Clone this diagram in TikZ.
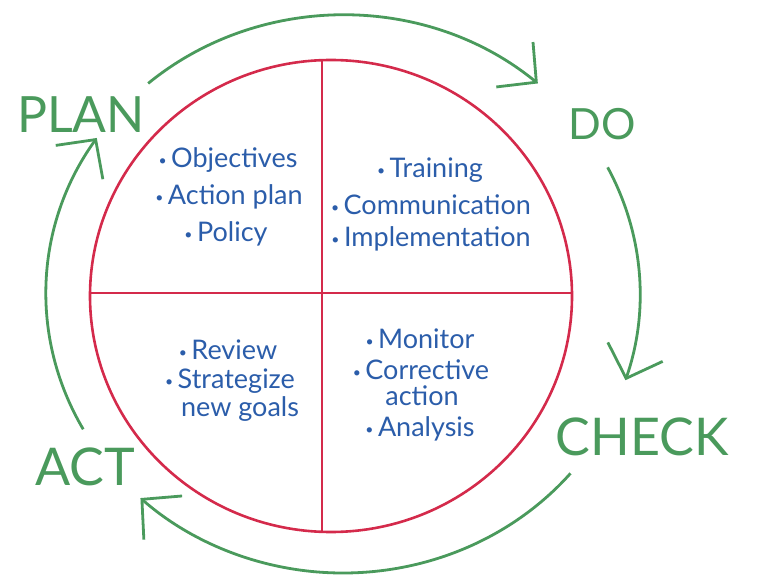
\documentclass[tikz,border=0pt]{standalone}
\usepackage{fontspec}
\setmainfont{Lato}
\usetikzlibrary{arrows.meta,calc}
\definecolor{cred}{HTML}{D42A4B}
\definecolor{cgreen}{HTML}{4A9A5C}
\definecolor{cblue}{HTML}{2B5DAA}
\newcommand\blt{{\fontsize{14}{14}\selectfont\raisebox{0.15em}{•}}\,}
\tikzset{
  quad/.style={draw=cred,line width=2.6pt},
  cyc/.style={draw=cgreen,line width=2.8pt,-{Straight Barb[length=28pt,width=58pt]}},
  phase/.style={text=cgreen,font=\fontsize{50}{50}\selectfont,inner sep=0pt},
  item/.style={text=cblue,font=\fontsize{27}{27}\selectfont,inner sep=0pt},
}
\begin{document}
\begin{tikzpicture}[x=1pt,y=1pt]
\useasboundingbox (0,0) rectangle (784,579);
% red circle with quadrants
\coordinate (rc) at (331,283);
\draw[quad] (rc) ellipse[x radius=241pt,y radius=236pt];
\coordinate (vt) at (322,519);
\coordinate (vb) at (322,47);
\coordinate (hl) at (90,286);
\coordinate (hr) at (572,286);
\draw[quad] (vt) -- (vb);
\draw[quad] (hl) -- (hr);
% green cycle
\coordinate (gc) at (343,285);
\coordinate (a1) at ($(gc)+(131:297pt and 279pt)$);
\coordinate (a2) at ($(gc)+(27:297pt and 279pt)$);
\coordinate (a3) at ($(gc)+(-40:297pt and 279pt)$);
\coordinate (a4) at ($(gc)+(209:297pt and 279pt)$);
\draw[cyc] (a1) arc[start angle=131,end angle=49,x radius=297pt,y radius=279pt];
\draw[cyc] (a2) arc[start angle=27,end angle=-18,x radius=297pt,y radius=279pt];
\draw[cyc] (a3) arc[start angle=-40,end angle=-133,x radius=297pt,y radius=279pt];
\draw[cyc] (a4) arc[start angle=209,end angle=146,x radius=297pt,y radius=279pt];
% phase labels
\node[phase] (plan) at (81,464) {PLAN};
\node[phase,font=\fontsize{43}{43}\selectfont] (do) at (602,455) {DO};
\node[phase,font=\fontsize{52}{52}\selectfont] (check) at (642,142) {CHECK};
\node[phase,font=\fontsize{52}{52}\selectfont] (act) at (85,112) {ACT};
% items
\node[item] (i1) at (228,419) {\blt Objectives};
\node[item] (i2) at (229,382) {\blt Action plan};
\node[item] (i3) at (226,345) {\blt Policy};
\node[item] (i4) at (430,409) {\blt Training};
\node[item] (i5) at (431,374) {\blt Communication};
\node[item] (i6) at (431,340) {\blt Implementation};
\node[item] (i7) at (228,229) {\blt Review};
\node[item] (i8) at (230,198) {\blt Strategize};
\node[item] (i9) at (240,170) {new goals};
\node[item] (i10) at (420,240) {\blt Monitor};
\node[item] (i11) at (421,209) {\blt Corrective};
\node[item] (i12) at (422,183) {action};
\node[item] (i13) at (420,150) {\blt Analysis};
\end{tikzpicture}
\end{document}
